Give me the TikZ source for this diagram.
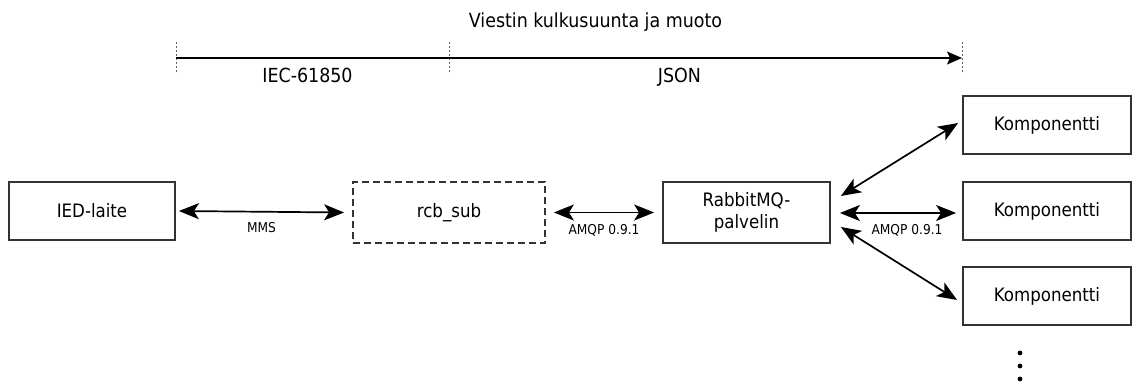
\documentclass[tikz,border=0pt]{standalone}
\usepackage{fontspec}
\setmainfont{DejaVu Sans Condensed}
\usetikzlibrary{arrows.meta}
\begin{document}
\begin{tikzpicture}[x=1pt,y=-1pt,
  box/.style={draw=black!80,line width=1.8pt,minimum height=58pt,inner sep=0pt,font=\fontsize{18.5}{21.5}\selectfont},
  dbox/.style={box,dash pattern=on 7pt off 4pt},
  link/.style={line width=1.7pt,{Stealth[length=20pt,width=16pt,inset=5pt]}-{Stealth[length=20pt,width=16pt,inset=5pt]}},
  lab/.style={font=\fontsize{13.6}{15}\selectfont,anchor=base,inner sep=0pt},
  tick/.style={draw=black!60,line width=0.6pt,dash pattern=on 2pt off 2pt},
  txt/.style={font=\fontsize{19.4}{22}\selectfont,anchor=base,inner sep=0pt}]
\useasboundingbox (0,0) rectangle (1144,387);
\node[txt] (title) at (595.5,28) {Viestin kulkusuunta ja muoto};
\coordinate (t1a) at (176,42); \coordinate (t1b) at (176,74);
\coordinate (t2a) at (449,42); \coordinate (t2b) at (449,74);
\coordinate (t3a) at (962,42); \coordinate (t3b) at (962,74);
\draw[tick] (t1a) -- (t1b);
\draw[tick] (t2a) -- (t2b);
\draw[tick] (t3a) -- (t3b);
\coordinate (as) at (176,58); \coordinate (ae) at (962,58);
\draw[line width=1.7pt,-{Stealth[length=15pt,width=13pt,inset=3pt]}] (as) -- (ae);
\node[txt] (iec) at (307.5,83) {IEC-61850};
\node[txt] (json) at (679.5,83) {JSON};

\node[box,minimum width=166pt] (ied) at (92,211) {IED-laite};
\node[dbox,minimum width=192pt,minimum height=61pt] (rcb) at (449,212.5) {rcb\_sub};
\node[box,minimum width=167pt,minimum height=61pt,align=center] (rmq) at (746.5,212.5) {RabbitMQ-\\palvelin};
\node[box,minimum width=168pt] (k1) at (1047,125) {Komponentti};
\node[box,minimum width=168pt] (k2) at (1047,211) {Komponentti};
\node[box,minimum width=168pt] (k3) at (1047,296) {Komponentti};

\draw[link] ([xshift=3pt]ied.east) -- node[lab,yshift=-21pt] {MMS} ([xshift=-8pt]rcb.west);
\draw[link] ([xshift=8pt]rcb.east) -- node[lab,yshift=-22pt] {AMQP 0.9.1} ([xshift=-8pt]rmq.west);
\draw[link] ([shift={(9,0.5)}]rmq.east) -- node[lab,yshift=-22pt,xshift=9pt] {AMQP 0.9.1} ([shift={(-6,2)}]k2.west);
\draw[link] ([shift={(10,-16.5)}]rmq.east) -- ([shift={(-4,-2)}]k1.west);
\draw[link] ([shift={(10,14.5)}]rmq.east) -- ([shift={(-5,4)}]k3.west);

\foreach \yy in {353,366,379} \fill (1020,\yy) circle (2.4pt);
\end{tikzpicture}
\end{document}
